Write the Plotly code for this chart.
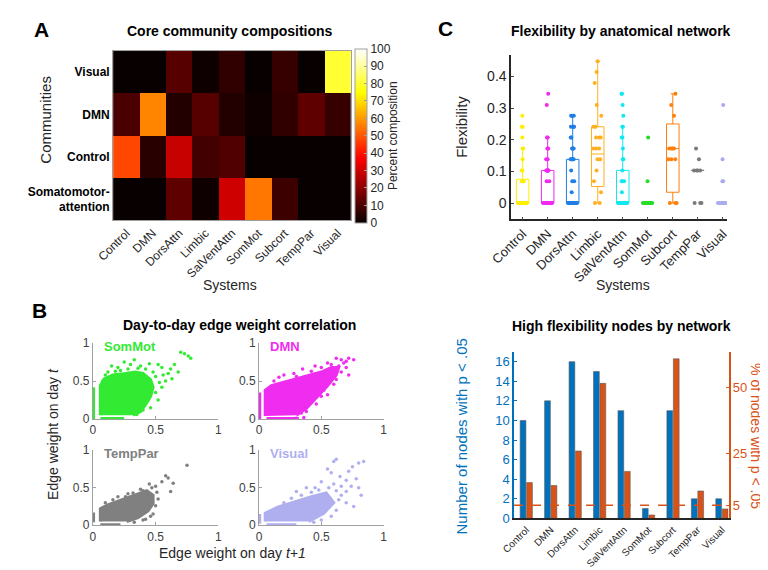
import plotly.graph_objects as go

W, H = 768, 570
FONT = "Arial, Liberation Sans, sans-serif"

systems = ["Control", "DMN", "DorsAttn", "Limbic", "SalVentAttn", "SomMot", "Subcort", "TempPar", "Visual"]
communities = ["Visual", "DMN", "Control", "Somatomotor-<br>attention"]

# A: percent composition of each core community (columns = systems)
comp_visual = [0, 0, 12, 1, 6, 0, 7, 0, 80]
comp_dmn = [10, 57, 4, 12, 4, 1, 6, 13, 7]
comp_control = [48, 5, 29, 9, 11, 0, 0, 0, 0]
comp_sommot = [0, 0, 13, 1, 30, 55, 8, 0, 0]

# B: day-to-day edge weights, dense core outline + scattered points + strips near 0
sommot_core_x = [0.06, 0.06, 0.09, 0.16, 0.26, 0.34, 0.40, 0.46, 0.48, 0.46, 0.42, 0.38, 0.32]
sommot_core_y = [0.05, 0.44, 0.53, 0.58, 0.60, 0.62, 0.60, 0.52, 0.42, 0.30, 0.19, 0.10, 0.05]
sommot_pts_x = [0.30, 0.38, 0.45, 0.52, 0.55, 0.62, 0.65, 0.70, 0.73, 0.76, 0.78, 0.60, 0.58, 0.55,
                0.50, 0.52, 0.46, 0.40, 0.15, 0.20, 0.25, 0.33, 0.68, 0.63, 0.10, 0.12, 0.22, 0.28,
                0.36, 0.42, 0.48, 0.50, 0.53, 0.44, 0.40, 0.35, 0.56, 0.47, 0.08, 0.18]
sommot_pts_y = [0.72, 0.70, 0.73, 0.72, 0.68, 0.66, 0.72, 0.88, 0.86, 0.83, 0.80, 0.60, 0.50, 0.42,
                0.35, 0.25, 0.15, 0.33, 0.70, 0.68, 0.75, 0.78, 0.62, 0.53, 0.58, 0.62, 0.64, 0.66,
                0.67, 0.66, 0.62, 0.56, 0.48, 0.25, 0.12, 0.06, 0.58, 0.40, 0.50, 0.63]
sommot_vstrip = [0.0, 0.42]
sommot_hstrip = [0.06, 0.25]

dmn_core_x = [0.05, 0.05, 0.10, 0.24, 0.38, 0.50, 0.58, 0.64, 0.62, 0.55, 0.46, 0.38, 0.30]
dmn_core_y = [0.04, 0.38, 0.44, 0.50, 0.56, 0.62, 0.68, 0.68, 0.58, 0.44, 0.28, 0.14, 0.05]
dmn_pts_x = [0.20, 0.28, 0.35, 0.45, 0.55, 0.62, 0.66, 0.72, 0.76, 0.70, 0.72, 0.62, 0.52, 0.55,
             0.46, 0.38, 0.36, 0.30, 0.12, 0.16, 0.30, 0.42, 0.50, 0.58, 0.68, 0.66, 0.60, 0.50,
             0.42, 0.34, 0.64, 0.70]
dmn_pts_y = [0.58, 0.60, 0.66, 0.70, 0.74, 0.80, 0.78, 0.80, 0.78, 0.68, 0.58, 0.52, 0.38, 0.32,
             0.20, 0.10, 0.02, 0.01, 0.50, 0.55, 0.56, 0.63, 0.68, 0.72, 0.74, 0.62, 0.46, 0.30,
             0.22, 0.08, 0.70, 0.76]
dmn_vstrip = [0.0, 0.35]
dmn_hstrip = [0.06, 0.32]

temppar_core_x = [0.06, 0.06, 0.12, 0.22, 0.34, 0.43, 0.48, 0.48, 0.44, 0.36, 0.27]
temppar_core_y = [0.05, 0.22, 0.27, 0.33, 0.40, 0.46, 0.40, 0.29, 0.19, 0.10, 0.05]
temppar_pts_x = [0.28, 0.38, 0.45, 0.50, 0.55, 0.58, 0.60, 0.64, 0.75, 0.62, 0.52, 0.48, 0.42, 0.20,
                 0.10, 0.16, 0.26, 0.32, 0.40, 0.47, 0.51, 0.50, 0.46, 0.40, 0.33]
temppar_pts_y = [0.42, 0.48, 0.55, 0.52, 0.58, 0.66, 0.63, 0.56, 0.80, 0.45, 0.35, 0.15, 0.08, 0.38,
                 0.30, 0.34, 0.38, 0.43, 0.46, 0.50, 0.44, 0.26, 0.12, 0.07, 0.04]
temppar_vstrip = [0.04, 0.17]
temppar_hstrip = [0.06, 0.22]

visual_core_x = [0.05, 0.05, 0.15, 0.30, 0.42, 0.54, 0.60, 0.52, 0.40]
visual_core_y = [0.05, 0.16, 0.24, 0.32, 0.38, 0.43, 0.30, 0.16, 0.05]
visual_pts_x = [0.60, 0.62, 0.55, 0.58, 0.65, 0.70, 0.72, 0.75, 0.80, 0.84, 0.78, 0.74, 0.70, 0.66,
                0.60, 0.50, 0.45, 0.38, 0.30, 0.62, 0.70, 0.80, 0.82, 0.76, 0.20, 0.26, 0.34, 0.42,
                0.48, 0.56, 0.62, 0.64, 0.58, 0.50, 0.44, 0.66, 0.54]
visual_pts_y = [0.85, 0.88, 0.75, 0.70, 0.65, 0.60, 0.72, 0.78, 0.83, 0.85, 0.62, 0.52, 0.45, 0.40,
                0.55, 0.58, 0.50, 0.50, 0.45, 0.20, 0.30, 0.50, 0.40, 0.25, 0.30, 0.36, 0.40, 0.44,
                0.47, 0.50, 0.46, 0.34, 0.12, 0.07, 0.04, 0.52, 0.24]
visual_vstrip = [0.02, 0.15]
visual_hstrip = [0.06, 0.30]

# C: flexibility of nodes in each network
flex_control = [0, 0, 0, 0, 0, 0, 0, 0, 0, 0, 0, 0, 0, 0, 0.069, 0.069, 0.069, 0.103, 0.103,
                0.138, 0.172, 0.172, 0.207, 0.241, 0.241, 0.276]
flex_dmn = [0, 0, 0, 0, 0, 0, 0, 0, 0, 0, 0, 0, 0, 0, 0.069, 0.069, 0.103, 0.103, 0.103, 0.103,
            0.103, 0.103, 0.103, 0.138, 0.138, 0.172, 0.172, 0.207, 0.207, 0.31, 0.345]
flex_dorsattn = [0, 0, 0, 0, 0, 0, 0, 0, 0, 0, 0, 0, 0, 0, 0.034, 0.069, 0.069, 0.103, 0.138, 0.138,
                 0.138, 0.138, 0.138, 0.138, 0.172, 0.172, 0.172, 0.172, 0.207, 0.207, 0.241, 0.241,
                 0.241, 0.241, 0.276, 0.276, 0.276]
flex_limbic = [0, 0, 0.034, 0.069, 0.103, 0.138, 0.138, 0.172, 0.172, 0.172, 0.207, 0.207, 0.207,
               0.241, 0.241, 0.276, 0.31, 0.379, 0.414, 0.448]
flex_salvent = [0, 0, 0, 0, 0, 0, 0, 0, 0, 0, 0, 0, 0, 0, 0.034, 0.069, 0.069, 0.069, 0.103, 0.138,
                0.138, 0.172, 0.207, 0.207, 0.241, 0.241, 0.276, 0.31, 0.345, 0.345]
flex_sommot = [0, 0, 0, 0, 0, 0, 0, 0, 0, 0, 0, 0, 0, 0, 0.069, 0.207]
flex_subcort = [0, 0, 0, 0.138, 0.138, 0.138, 0.172, 0.172, 0.172, 0.172, 0.276, 0.31, 0.345]
flex_temppar = [0, 0, 0, 0.103, 0.103, 0.103, 0.103, 0.138, 0.172]
flex_visual = [0, 0, 0, 0, 0, 0, 0, 0, 0, 0, 0, 0, 0.069, 0.069, 0.138, 0.31]

box_q1 = [0, 0, 0, 0.052, 0, 0, 0.034, 0.103, 0]
box_median = [0, 0, 0, 0.155, 0, 0, 0.172, 0.103, 0]
box_q3 = [0.075, 0.103, 0.138, 0.241, 0.103, 0, 0.25, 0.103, 0]
box_lower = [0, 0, 0, 0, 0, 0, 0, 0.103, 0]
box_upper = [0.172, 0.207, 0.276, 0.448, 0.241, 0, 0.345, 0.103, 0]

system_colors = ["#FFEE00", "#F028F0", "#1F7FE6", "#FFB020", "#10E8F0",
                 "#28DC28", "#FF7F0A", "#7A7A7A", "#ABABF0"]

# D: high flexibility nodes
n_sig = [10, 12, 16, 15, 11, 1, 11, 2, 2]
pct_sig = [13.7, 12.6, 25.8, 51.7, 18.0, 1.3, 61.1, 10.5, 3.6]
threshold_pct = 5


def fx(px):
    return px / W


def fy(py):
    return 1 - py / H


fig = go.Figure()

# ---- A heatmap
hot = [[0, "rgb(8,0,0)"], [0.375, "rgb(255,0,0)"], [0.75, "rgb(255,255,0)"], [1, "rgb(255,255,255)"]]
fig.add_trace(go.Heatmap(
    z=[comp_visual, comp_dmn, comp_control, comp_sommot], x=systems, y=communities,
    zmin=0, zmax=100, colorscale=hot, xaxis="x", yaxis="y", hoverinfo="skip",
    colorbar=dict(x=fx(336), xanchor="left", xpad=0, y=fy(124), yanchor="middle", ypad=0,
                  lenmode="pixels", len=174, thickness=12, outlinewidth=1, outlinecolor="#a0a0a0",
                  tick0=0, dtick=10, ticks="inside", ticklen=3, tickcolor="#a0a0a0",
                  tickfont=dict(size=12, color="#262626"),
                  title=dict(text="Percent composition", side="right", font=dict(size=12, color="#262626")))))

# ---- B scatter panels
panels_b = [
    ("x3", "y3", "SomMot", "#33EA33", sommot_core_x, sommot_core_y, sommot_pts_x, sommot_pts_y, sommot_vstrip, sommot_hstrip),
    ("x4", "y4", "DMN", "#F02CF0", dmn_core_x, dmn_core_y, dmn_pts_x, dmn_pts_y, dmn_vstrip, dmn_hstrip),
    ("x5", "y5", "TempPar", "#808080", temppar_core_x, temppar_core_y, temppar_pts_x, temppar_pts_y, temppar_vstrip, temppar_hstrip),
    ("x6", "y6", "Visual", "#AFAFF0", visual_core_x, visual_core_y, visual_pts_x, visual_pts_y, visual_vstrip, visual_hstrip),
]
for xa, ya, name, col, cx, cy, px_, py_, vs, hs in panels_b:
    fig.add_trace(go.Scatter(x=cx, y=cy, fill="toself", mode="lines", line=dict(color=col, width=3),
                             fillcolor=col, xaxis=xa, yaxis=ya, showlegend=False, hoverinfo="skip"))
    fig.add_trace(go.Scatter(x=px_, y=py_, mode="markers", marker=dict(color=col, size=3.5),
                             xaxis=xa, yaxis=ya, showlegend=False, hoverinfo="skip"))
    fig.add_trace(go.Scatter(x=[0.006, 0.006], y=vs, mode="lines", line=dict(color=col, width=3),
                             xaxis=xa, yaxis=ya, showlegend=False, hoverinfo="skip", cliponaxis=False))
    fig.add_trace(go.Scatter(x=hs, y=[0.006, 0.006], mode="lines", line=dict(color=col, width=3),
                             xaxis=xa, yaxis=ya, showlegend=False, hoverinfo="skip", cliponaxis=False))
    fig.add_annotation(x=0.07, y=0.95, xref=xa, yref=ya, text="<b>" + name + "</b>", showarrow=False,
                       xanchor="left", yanchor="middle", font=dict(size=13, color=col))

# ---- C boxes
flex_samples = [flex_control, flex_dmn, flex_dorsattn, flex_limbic, flex_salvent,
                flex_sommot, flex_subcort, flex_temppar, flex_visual]
for i, s in enumerate(systems):
    fig.add_trace(go.Box(
        x=[s], y=[flex_samples[i]], q1=[box_q1[i]], median=[box_median[i]], q3=[box_q3[i]],
        lowerfence=[box_lower[i]], upperfence=[box_upper[i]],
        boxpoints="all", jitter=0.9, pointpos=0, width=0.5, whiskerwidth=0.35,
        line=dict(color=system_colors[i], width=1), fillcolor="rgba(0,0,0,0)",
        marker=dict(color=system_colors[i], size=4), opacity=1,
        xaxis="x2", yaxis="y2", showlegend=False, hoverinfo="skip"))

# ---- D bars
fig.add_trace(go.Bar(x=systems, y=n_sig, width=0.235, offset=-0.25, marker=dict(color="#0072BD", line=dict(color="#5a5a5a", width=0.6)),
                     xaxis="x7", yaxis="y7", showlegend=False, hoverinfo="skip"))
fig.add_trace(go.Bar(x=systems, y=pct_sig, width=0.235, offset=0.015, marker=dict(color="#D95319", line=dict(color="#5a5a5a", width=0.6)),
                     xaxis="x7", yaxis="y8", showlegend=False, hoverinfo="skip"))
fig.add_shape(type="line", xref="x7 domain", yref="y8", x0=0, x1=1, y0=threshold_pct, y1=threshold_pct,
              line=dict(color="#D95319", width=1.5, dash="dash"))

tick_dark = dict(size=12, color="#262626")
small_ax = dict(range=[0, 1], tickvals=[0, 0.5, 1], showline=True, linecolor="#a0a0a0", linewidth=1,
                ticks="inside", ticklen=3, tickcolor="#a0a0a0", showgrid=False, zeroline=False,
                tickfont=dict(size=12, color="#404040"))

fig.update_layout(
    width=W, height=H, margin=dict(l=0, r=0, t=0, b=0), paper_bgcolor="white", plot_bgcolor="white",
    font=dict(family=FONT, color="#262626"), barmode="overlay",
    xaxis=dict(domain=[fx(86), fx(332)], anchor="y", tickangle=-45, tickfont=tick_dark, ticks="",
               showline=True, mirror=True, linecolor="#a0a0a0", showgrid=False),
    yaxis=dict(domain=[fy(211), fy(37)], anchor="x", autorange="reversed", ticks="",
               tickfont=dict(size=12, color="#000000"), tickprefix="<b>", ticksuffix="</b>",
               showline=True, mirror=True, linecolor="#a0a0a0", showgrid=False),
    xaxis2=dict(domain=[fx(498), fx(721)], anchor="y2", type="category", range=[-0.46, 8.15],
                tickangle=-45, tickfont=dict(size=13, color="#262626"), showline=True, linecolor="#262626",
                linewidth=1.5, ticks="inside", ticklen=3, showgrid=False, zeroline=False),
    yaxis2=dict(domain=[fy(210), fy(41)], anchor="x2", range=[-0.052, 0.468], tick0=0, dtick=0.1,
                tickfont=dict(size=14, color="#262626"), showline=True, linecolor="#262626", linewidth=1.5,
                ticks="inside", ticklen=3, showgrid=False, zeroline=False),
    xaxis3=dict(domain=[fx(65), fx(195)], anchor="y3", **small_ax),
    yaxis3=dict(domain=[fy(415), fy(337)], anchor="x3", **small_ax),
    xaxis4=dict(domain=[fx(237), fx(366)], anchor="y4", **small_ax),
    yaxis4=dict(domain=[fy(415), fy(337)], anchor="x4", **small_ax),
    xaxis5=dict(domain=[fx(65), fx(195)], anchor="y5", **small_ax),
    yaxis5=dict(domain=[fy(524), fy(447)], anchor="x5", **small_ax),
    xaxis6=dict(domain=[fx(237), fx(366)], anchor="y6", **small_ax),
    yaxis6=dict(domain=[fy(524), fy(447)], anchor="x6", **small_ax),
    xaxis7=dict(domain=[fx(501), fx(723)], anchor="y7", type="category", range=[-0.5, 8.27],
                tickangle=-45, tickfont=dict(size=10, color="#262626"), showline=True, linecolor="#262626",
                linewidth=1.5, ticks="", showgrid=False, zeroline=False),
    yaxis7=dict(domain=[fy(517), fy(346)], anchor="x7", range=[0, 17], tick0=0, dtick=2,
                tickfont=dict(size=13, color="#0072BD"), showline=True, linecolor="#0072BD", linewidth=1.5,
                ticks="inside", ticklen=3, tickcolor="#0072BD", showgrid=False, zeroline=False),
    yaxis8=dict(overlaying="y7", side="right", anchor="x7", range=[0, 63.75], tickvals=[5, 25, 50],
                tickfont=dict(size=13, color="#D95319"), showline=True, linecolor="#D95319", linewidth=1.5,
                ticks="inside", ticklen=3, tickcolor="#D95319", showgrid=False, zeroline=False),
)


def label(x, y, text, size=14, bold=False, angle=0, color="#000000"):
    if bold:
        text = "<b>" + text + "</b>"
    fig.add_annotation(x=fx(x), y=fy(y), xref="paper", yref="paper", text=text, showarrow=False,
                       textangle=angle, xanchor="center", yanchor="middle",
                       font=dict(size=size, color=color, family=FONT))


label(12, 15, "A", 21, True)
label(207, 16, "Core community compositions", 14, True)
label(16, 107, "Communities", 15, angle=-90, color="#262626")
label(207, 277, "Systems", 14, color="#262626")
label(10, 303, "B", 21, True)
label(217, 318, "Day-to-day edge weight correlation", 14, True)
label(23, 430, "Edge weight on day <i>t</i>", 14, angle=-90, color="#262626")
label(210, 553, "Edge weight on day <i>t+1</i>", 14, color="#262626")
label(430, 14, "C", 21, True)
label(612, 16, "Flexibility by anatomical network", 14, True)
label(447, 115, "Flexibility", 15, angle=-90, color="#262626")
label(614, 277, "Systems", 14, color="#262626")
label(612, 319, "High flexibility nodes by network", 14, True)
label(447, 433, "Number of nodes with p < .05", 15, angle=-90, color="#0072BD")
label(752, 432, "% of nodes with p < .05", 14, angle=90, color="#D95319")

fig.write_html("out.html")
